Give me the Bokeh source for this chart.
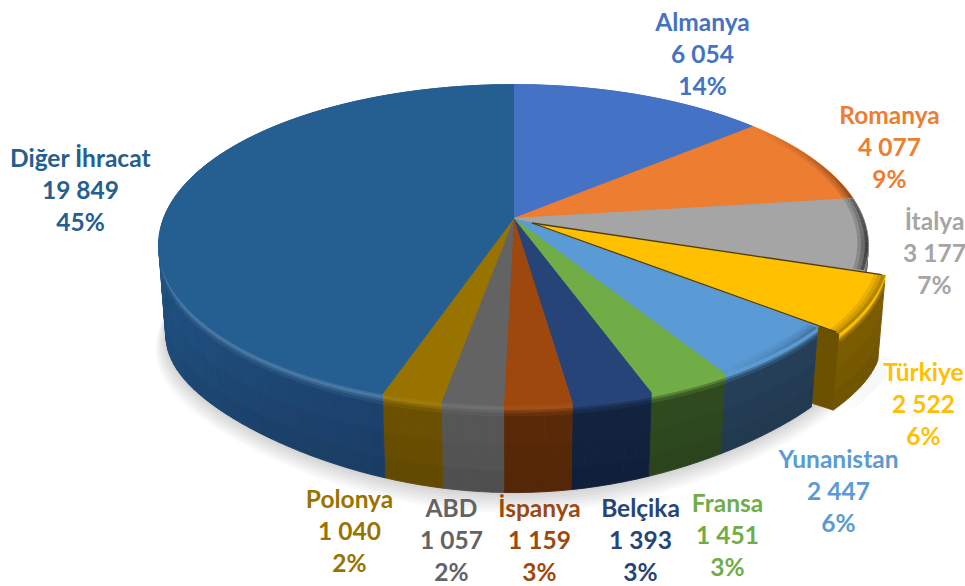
import math
from bokeh.plotting import figure
from bokeh.models import Range1d
from bokeh.core.properties import value
from bokeh.embed import file_html
from bokeh.resources import INLINE

categories = ["Almanya", "Romanya", "İtalya", "Türkiye", "Yunanistan", "Fransa",
              "Belçika", "İspanya", "ABD", "Polonya", "Diğer İhracat"]
values = [6054, 4077, 3177, 2522, 2447, 1451, 1393, 1159, 1057, 1040, 19849]
face_colors = ["#4472C4", "#ED7D31", "#A5A5A5", "#FFC000", "#5B9BD5", "#70AD47",
               "#264478", "#9E480E", "#636363", "#997300", "#255E91"]
wall_colors = ["#2a4678", "#8f4b1d", "#646464", "#7a5c00", "#243f57", "#2f4a1f",
               "#12233f", "#5a2a08", "#565656", "#6a5000", "#215a8d"]
rim_light = [0, 0, 0, 0, 0, 0, 0, 0.04, 0.08, 0.06, 0.16]
exploded = "Türkiye"
label_centers = {"Almanya": (702, 21), "Romanya": (889, 114), "İtalya": (934, 220),
                 "Türkiye": (923, 371), "Yunanistan": (838, 458), "Fransa": (727, 502),
                 "Belçika": (640, 507), "İspanya": (539, 507), "ABD": (451, 507),
                 "Polonya": (349, 498), "Diğer İhracat": (80, 157)}
LINE = 32.2

# projection of the pie (pixels of the page)
CX, CY, A, B, K, DEPTH, TAPER, EXPLODE = 513, 218, 350, 156, 0.165, 91, 0.02, 0.06
RIM = 0.12
LIFT = 40


def proj(t, r=1.0, z=0.0, ex=(0.0, 0.0)):
    rad = math.radians(t)
    u = r * math.sin(rad) + ex[0]
    v = r * math.cos(rad) + ex[1]
    s = 1 - TAPER * z
    w = 1 + K * v
    lift = LIFT * z * u * u * v * v if v < 0 else 0.0
    return CX + A * s * u / w, CY + DEPTH * z - B * s * v / w - lift


def rgb(h):
    return [int(h[i:i + 2], 16) for i in (1, 3, 5)]


def mix(c1, c2, f):
    a, b = rgb(c1), rgb(c2)
    return "#%02x%02x%02x" % tuple(round(x + (y - x) * f) for x, y in zip(a, b))


xs, ys, fills, alphas, lalphas = [], [], [], [], []


def add(pts, color, alpha=1.0):
    xs.append([q[0] for q in pts])
    ys.append([q[1] for q in pts])
    fills.append(color)
    alphas.append(alpha)
    lalphas.append(1.0 if alpha >= 1.0 else 0.0)


def arc(a0, a1, step=2.0):
    n = max(1, int(math.ceil((a1 - a0) / step)))
    return [a0 + (a1 - a0) * i / n for i in range(n + 1)]


total = sum(values)
slices = []
acc = 0.0
for i, name in enumerate(categories):
    a0 = acc / total * 360
    acc += values[i]
    a1 = acc / total * 360
    ex = (0.0, 0.0)
    if name == exploded:
        m = math.radians((a0 + a1) / 2)
        ex = (EXPLODE * math.sin(m), EXPLODE * math.cos(m))
    slices.append(dict(i=i, name=name, a0=a0, a1=a1, ex=ex))


def wall_color(s, t):
    i = s["i"]
    if categories[i] == "Diğer İhracat":
        f = min(1.0, abs(t - 285) / 87)
        return mix(wall_colors[i], "#1c416c", f if t < 285 else 0)
    return wall_colors[i]


def band(s, z0, z1, c_fn):
    ts = arc(s["a0"], s["a1"])
    for t0, t1 in zip(ts[:-1], ts[1:]):
        add([proj(t0, 1, z0, s["ex"]), proj(t1, 1, z0, s["ex"]),
             proj(t1, 1, z1, s["ex"]), proj(t0, 1, z1, s["ex"])], c_fn((t0 + t1) / 2))


def rim(s):
    i = s["i"]
    steps = [(0.0, 0.03), (0.03, 0.06), (0.06, 0.09), (0.09, RIM)]
    for j, (z0, z1) in enumerate(steps):
        def col(t, j=j):
            hi = mix(face_colors[i], "#ffffff", rim_light[i])
            w = wall_color(s, t)
            return [mix(face_colors[i], hi, 0.7), hi, mix(hi, w, 0.45), mix(hi, w, 0.8)][j]
        band(s, z0, z1, col)


def wall(s):
    steps = [(RIM, 0.45), (0.45, 0.75), (0.75, 1.0)]
    for j, (z0, z1) in enumerate(steps):
        band(s, z0, z1, lambda t, j=j: mix(wall_color(s, t), "#000000", 0.04 * j))


def face(s):
    ts = arc(s["a0"], s["a1"])
    add([proj(0, 0, 0, s["ex"])] + [proj(t, 1, 0, s["ex"]) for t in ts], face_colors[s["i"]])


def edge_shade(s, strength):
    ts = arc(s["a0"], s["a1"])
    for r0, r1, g in [(0.97, 0.98, 0.3), (0.98, 0.99, 0.6), (0.99, 1.0, 1.0)]:
        for t0, t1 in zip(ts[:-1], ts[1:]):
            a = strength((t0 + t1) / 2) * g
            if a > 0.01:
                add([proj(t0, r0, 0, s["ex"]), proj(t1, r0, 0, s["ex"]),
                     proj(t1, r1, 0, s["ex"]), proj(t0, r1, 0, s["ex"])], "#000000", a)


# soft shadow under the pie
for n in range(7, 0, -1):
    sc = 1 + 0.0045 * n
    add([proj(t, sc, 1.0 + 0.022 * n) for t in arc(0, 360, 4)], "#000000", 0.022)
for s in slices:
    if s["name"] == exploded:
        for n in range(5, 0, -1):
            add([(x + 3 * n, y + 2 * n) for x, y in
                 [proj(t, 1, 0.9, s["ex"]) for t in arc(s["a0"], s["a1"])]], "#000000", 0.025)

regular = [s for s in slices if s["name"] != exploded]
special = [s for s in slices if s["name"] == exploded][0]

# exploded slice: cut side lies behind the neighbouring wall
cut = special["a1"]
add([proj(cut, 0, 0, special["ex"]), proj(cut, 1, 0, special["ex"]),
     proj(cut, 1, 1, special["ex"]), proj(cut, 0, 1, special["ex"])],
    mix(wall_colors[special["i"]], "#000000", 0.12))

for s in regular:
    wall(s)
for s in regular:
    rim(s)

wall(special)
rim(special)

# the gap the exploded slice leaves is closed by its neighbours' colours
mid = (special["a0"] + special["a1"]) / 2
add([proj(0, 0, 0)] + [proj(t, 1, 0) for t in arc(special["a0"], mid)], face_colors[special["i"] - 1])
add([proj(0, 0, 0)] + [proj(t, 1, 0) for t in arc(mid, special["a1"])], face_colors[special["i"] + 1])

for s in regular:
    face(s)
    edge_shade(s, lambda t: max(0.0, 0.6 * (1 - abs(t - 100) / 50)))
face(special)
edge_shade(special, lambda t: 0.3)

p = figure(width=965, height=586, x_range=Range1d(0, 965), y_range=Range1d(586, 0),
           output_backend="svg", toolbar_location=None, min_border=0,
           outline_line_color=None, background_fill_color="#ffffff", border_fill_color="#ffffff")
p.axis.visible = False
p.grid.visible = False
p.patches(xs=xs, ys=ys, fill_color=fills, fill_alpha=alphas, line_color=fills,
          line_alpha=lalphas, line_width=0.9)

# thin dark seams along the two straight edges of the exploded slice
seam_x, seam_y = [], []
for t in (special["a0"], special["a1"]):
    q0, q1 = proj(t, 0, 0, special["ex"]), proj(t, 0.99, 0, special["ex"])
    seam_x.append([q0[0], q1[0]])
    seam_y.append([q0[1], q1[1]])
p.multi_line(xs=seam_x, ys=seam_y, line_color="#4a3c1c", line_width=1.3)

tx, ty, tt, tc = [], [], [], []
for i, name in enumerate(categories):
    cx, cy = label_centers[name]
    num = f"{values[i]:,}".replace(",", " ")
    pct = f"{round(values[i] / total * 100)}%"
    for j, txt in enumerate([name, num, pct]):
        tx.append(cx)
        ty.append(cy + LINE * j)
        tt.append(txt)
        tc.append(face_colors[i])
p.text(x=tx, y=ty, text=tt, text_color=tc, text_font=value("Lato"), text_font_style="bold",
       text_font_size="24.5px", text_align="center", text_baseline="middle")

open("out.html", "w").write(file_html(p, INLINE))
